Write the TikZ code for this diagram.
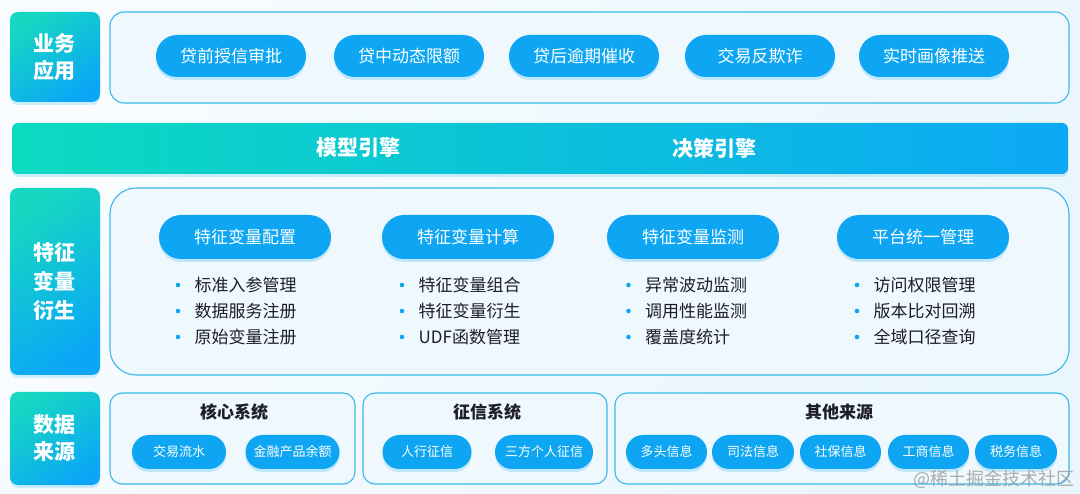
\documentclass[tikz,border=0pt]{standalone}
\usepackage{fontspec}
\setmainfont{Noto Sans CJK SC}
\usetikzlibrary{shapes.misc,shadows}
\definecolor{pillblue}{HTML}{0EA6F2}
\definecolor{tealc}{HTML}{16D7C2}
\definecolor{bluec}{HTML}{0BA7F6}
\definecolor{bandL}{HTML}{0BDBC0}
\definecolor{bandR}{HTML}{0CA8F5}
\definecolor{boxborder}{HTML}{3DB6EE}
\definecolor{boxfill}{HTML}{EEF8FD}
\definecolor{bgA}{HTML}{F8FCFF}
\definecolor{bgB}{HTML}{E9F6FC}
\definecolor{glow}{HTML}{9ADAFA}
\definecolor{txt}{HTML}{1E1E28}
\definecolor{wm}{HTML}{9A9A9A}
\tikzset{
  pill/.style={rounded rectangle, fill=pillblue, text=white, inner sep=0pt,
    drop shadow={shadow xshift=0pt, shadow yshift=-3pt, fill=glow, opacity=0.55}},
  bigpill/.style={pill, minimum height=42pt, minimum width=150pt, font=\fontsize{17}{17}\selectfont},
  midpill/.style={pill, minimum height=44pt, minimum width=172pt, font=\fontsize{17}{17}\selectfont},
  smallpill/.style={pill, minimum height=34pt, font=\fontsize{13}{13}\selectfont},
  rowlabel/.style={top color=tealc, bottom color=bluec, shading angle=35, rounded corners=8pt,
    text=white, align=center, inner sep=0pt, minimum width=90pt,
    font=\fontsize{21}{27}\selectfont\bfseries,
    drop shadow={shadow xshift=0pt, shadow yshift=-3pt, fill=glow, opacity=0.45}},
  outerbox/.style={draw=boxborder, line width=1.1pt, fill=boxfill, inner sep=0pt},
  itemtext/.style={anchor=west, text=txt, inner sep=0pt, font=\fontsize{17}{17}\selectfont},
  dot/.style={circle, fill=pillblue, inner sep=0pt, minimum size=4.6pt},
  subtitle/.style={text=txt, inner sep=0pt, font=\fontsize{17}{17}\selectfont\bfseries},
  bandtext/.style={text=white, inner sep=0pt, font=\fontsize{21}{21}\selectfont\bfseries},
}
\newcommand{\featlist}[5]{%
  \foreach \itm [count=\i] in {#3,#4,#5} {
    \node[dot] (#1d\i) at (#2, 259+26*\i) {};
    \node[itemtext] (#1t\i) at (#2+16.5, 259+26*\i) {\itm};
  }}
\begin{document}
\begin{tikzpicture}[x=1pt,y=-1pt]
\useasboundingbox (0,0) rectangle (1080,494);
\shade[left color=bgA, right color=bgB, shading angle=60] (0,0) rectangle (1080,494);

% row 1
\node[rowlabel, minimum height=90pt] (l1) at (55,57) {业务\\应用};
\node[outerbox, rounded corners=14pt, minimum width=959pt, minimum height=91pt] (app) at (589.5,57.5) {};
\node[bigpill] (a1) at (231,56) {贷前授信审批};
\node[bigpill] (a2) at (409,56) {贷中动态限额};
\node[bigpill] (a3) at (584,56) {贷后逾期催收};
\node[bigpill] (a4) at (760,56) {交易反欺诈};
\node[bigpill] (a5) at (934,56) {实时画像推送};

% band
\node[left color=bandL, right color=bandR, rounded corners=6pt, minimum width=1056pt, minimum height=51pt, inner sep=0pt,
  drop shadow={shadow xshift=0pt, shadow yshift=-3pt, fill=glow, opacity=0.45}] (band) at (540,148.5) {};
\node[bandtext] (m1) at (358,148) {模型引擎};
\node[bandtext] (m2) at (714,148) {决策引擎};

% row 3
\node[rowlabel, minimum height=187pt, font=\fontsize{21}{29}\selectfont\bfseries] (l3) at (55,281.5) {特征\\变量\\衍生};
\node[outerbox, rounded corners=26pt, minimum width=959pt, minimum height=187pt] (feat) at (589.5,281.5) {};
\node[midpill] (f1) at (245,237) {特征变量配置};
\node[midpill] (f2) at (468,237) {特征变量计算};
\node[midpill] (f3) at (693,237) {特征变量监测};
\node[midpill] (f4) at (923,237) {平台统一管理};
\featlist{c1}{178}{标准入参管理}{数据服务注册}{原始变量注册}
\featlist{c2}{402}{特征变量组合}{特征变量衍生}{UDF函数管理}
\featlist{c3}{628.5}{异常波动监测}{调用性能监测}{覆盖度统计}
\featlist{c4}{857}{访问权限管理}{版本比对回溯}{全域口径查询}

% row 4
\node[rowlabel, minimum height=93pt] (l4) at (55,438.5) {数据\\来源};
\node[outerbox, rounded corners=12pt, minimum width=245pt, minimum height=91pt] (core) at (232.5,438.5) {};
\node[outerbox, rounded corners=12pt, minimum width=244pt, minimum height=91pt] (cred) at (485,438.5) {};
\node[outerbox, rounded corners=12pt, minimum width=454pt, minimum height=91pt] (other) at (842,438.5) {};
\node[subtitle] (s1) at (234,412) {核心系统};
\node[subtitle] (s2) at (487,412) {征信系统};
\node[subtitle] (s3) at (839,412) {其他来源};
\node[smallpill, minimum width=94pt] (d1) at (179,452) {交易流水};
\node[smallpill, minimum width=94pt] (d2) at (292.5,452) {金融产品余额};
\node[smallpill, minimum width=89pt] (d3) at (427,452) {人行征信};
\node[smallpill, minimum width=98pt] (d4) at (544,452) {三方个人征信};
\node[smallpill, minimum width=81pt] (d5) at (666.5,452) {多头信息};
\node[smallpill, minimum width=82pt] (d6) at (753,452) {司法信息};
\node[smallpill, minimum width=81pt] (d7) at (840.5,452) {社保信息};
\node[smallpill, minimum width=81pt] (d8) at (928.5,452) {工商信息};
\node[smallpill, minimum width=82pt] (d9) at (1016,452) {税务信息};

% watermark
\node[text=wm, opacity=0.8, inner sep=0pt, font=\fontsize{18}{18}\selectfont] (wmk) at (994,479) {@稀土掘金技术社区};
\end{tikzpicture}
\end{document}
